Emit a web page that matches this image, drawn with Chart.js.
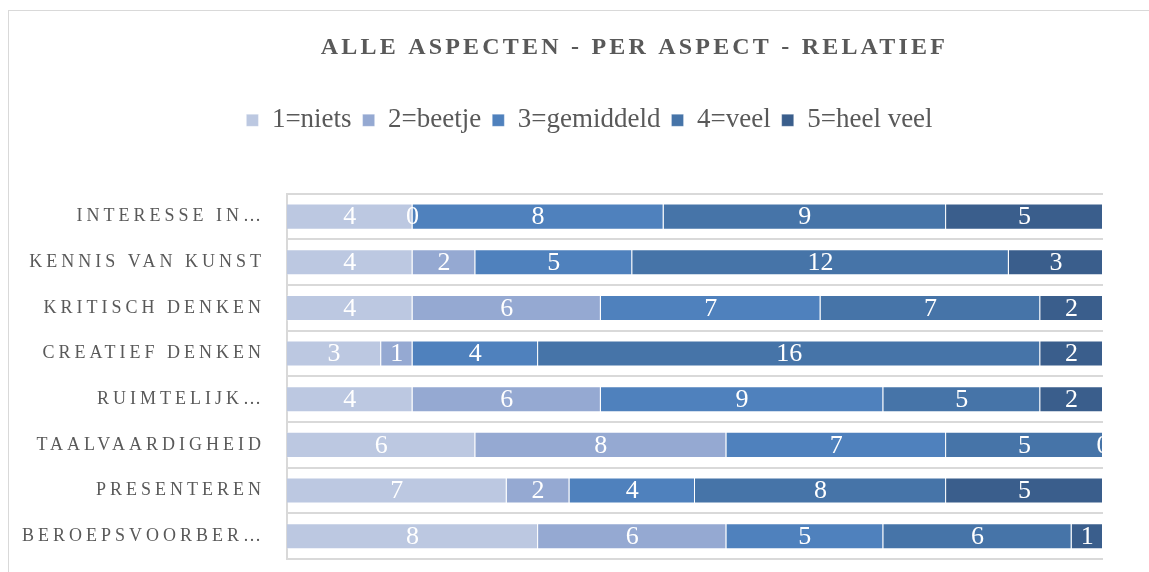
<!DOCTYPE html>
<html lang="nl">
<head>
<meta charset="utf-8">
<title>Alle aspecten - per aspect - relatief</title>
<script src="https://cdn.jsdelivr.net/npm/chart.js@4/dist/chart.umd.min.js"></script>
<style>
  html, body { margin: 0; padding: 0; background: #fff; overflow: hidden; }
  #frame { position: absolute; left: 8px; top: 10px; width: 1300px; height: 700px; border: 1px solid #d9d9d9; }
  #wrap  { position: absolute; left: 0; top: 0; width: 1149px; height: 572px; }
</style>
</head>
<body>
<div id="frame"></div>
<div id="wrap"><canvas id="chart"></canvas></div>
<script>
/* ── Data (counts per aspect) ───────────────────── */
const aspects = [
  "INTERESSE IN…", "KENNIS VAN KUNST", "KRITISCH DENKEN", "CREATIEF DENKEN",
  "RUIMTELIJK…", "TAALVAARDIGHEID", "PRESENTEREN", "BEROEPSVOORBER…"
];
const niets     = [4, 4, 4, 3, 4, 6, 7, 8];
const beetje    = [0, 2, 6, 1, 6, 8, 2, 6];
const gemiddeld = [8, 5, 7, 4, 9, 7, 4, 5];
const veel      = [9, 12, 7, 16, 5, 5, 8, 6];
const heelVeel  = [5, 3, 2, 2, 2, 0, 5, 1];

const seriesNames  = ["1=niets", "2=beetje", "3=gemiddeld", "4=veel", "5=heel veel"];
const seriesColors = ["#bcc8e1", "#95a9d2", "#4f81bd", "#4674a8", "#3a5e8c"];

const FONT = "'Liberation Serif', 'Times New Roman', serif";
const TEXT = "#595959";

/* ── Relative (100%) values ──────────────────────── */
const allSeries = [niets, beetje, gemiddeld, veel, heelVeel];
const totals = aspects.map((_, i) => allSeries.reduce((s, arr) => s + arr[i], 0));

const datasets = allSeries.map((arr, k) => ({
  label: seriesNames[k],
  data: arr.map((v, i) => v / totals[i] * 100),
  counts: arr,
  backgroundColor: seriesColors[k],
  borderColor: "rgba(255,255,255,0.25)",
  borderWidth: 1,
  barPercentage: 0.57,
  categoryPercentage: 1
}));

/* ── Canvas letter spacing / offset for some boxes ─ */
function wrapDraw(obj, name, spacing, dx) {
  if (!obj || obj["_wrapped_" + name]) return;
  const orig = obj[name].bind(obj);
  obj["_wrapped_" + name] = true;
  obj[name] = function (...args) {
    const ctx = this.ctx;
    ctx.save();
    ctx.letterSpacing = spacing + "px";
    ctx.translate(dx, 0);
    orig(...args);
    ctx.restore();
  };
}

const spacingPlugin = {
  id: "spacing",
  beforeDraw(chart) {
    wrapDraw(chart.scales.y, "drawLabels", 4, 0);
    wrapDraw(chart.titleBlock, "draw", 3.2, 83);
    wrapDraw(chart.legend, "draw", 0, 38);
  }
};

/* ── Count labels in the middle of each segment ─── */
const countLabels = {
  id: "countLabels",
  afterDatasetsDraw(chart) {
    const { ctx, chartArea: a } = chart;
    ctx.save();
    ctx.beginPath();
    ctx.rect(a.left, a.top, a.right - a.left, a.bottom - a.top);
    ctx.clip();
    ctx.font = "26px " + FONT;
    ctx.fillStyle = "#ffffff";
    ctx.textAlign = "center";
    ctx.textBaseline = "middle";
    chart.data.datasets.forEach((ds, k) => {
      chart.getDatasetMeta(k).data.forEach((bar, i) => {
        ctx.fillText(String(ds.counts[i]), (bar.x + bar.base) / 2, bar.y + 1);
      });
    });
    ctx.restore();
  }
};

new Chart(document.getElementById("chart"), {
  type: "bar",
  data: { labels: aspects, datasets },
  plugins: [spacingPlugin, countLabels],
  options: {
    indexAxis: "y",
    responsive: true,
    maintainAspectRatio: false,
    animation: false,
    layout: { padding: { left: 0, right: 46, top: 0, bottom: 13 } },
    plugins: {
      title: {
        display: true,
        text: "ALLE ASPECTEN - PER ASPECT - RELATIEF",
        color: TEXT,
        font: { family: FONT, size: 24, weight: "bold" },
        padding: { top: 33, bottom: 34 }
      },
      legend: {
        position: "top",
        labels: {
          color: TEXT,
          font: { family: FONT, size: 27 },
          boxWidth: 12,
          boxHeight: 12,
          padding: 11
        }
      },
      tooltip: { enabled: false }
    },
    scales: {
      x: {
        position: "top",
        stacked: true,
        min: 0,
        max: 100,
        grid: { display: false },
        border: { display: false },
        ticks: { display: false },
        afterFit: s => { s.height = 50; }
      },
      y: {
        stacked: true,
        grid: { color: "#d9d9d9", lineWidth: 2, drawTicks: false },
        border: { color: "#d9d9d9", width: 2 },
        ticks: { color: TEXT, font: { family: FONT, size: 18 }, padding: 22 },
        afterFit: s => { s.width = 287; s.paddingTop = 0; s.paddingBottom = 0; }
      }
    }
  }
});
</script>
</body>
</html>
